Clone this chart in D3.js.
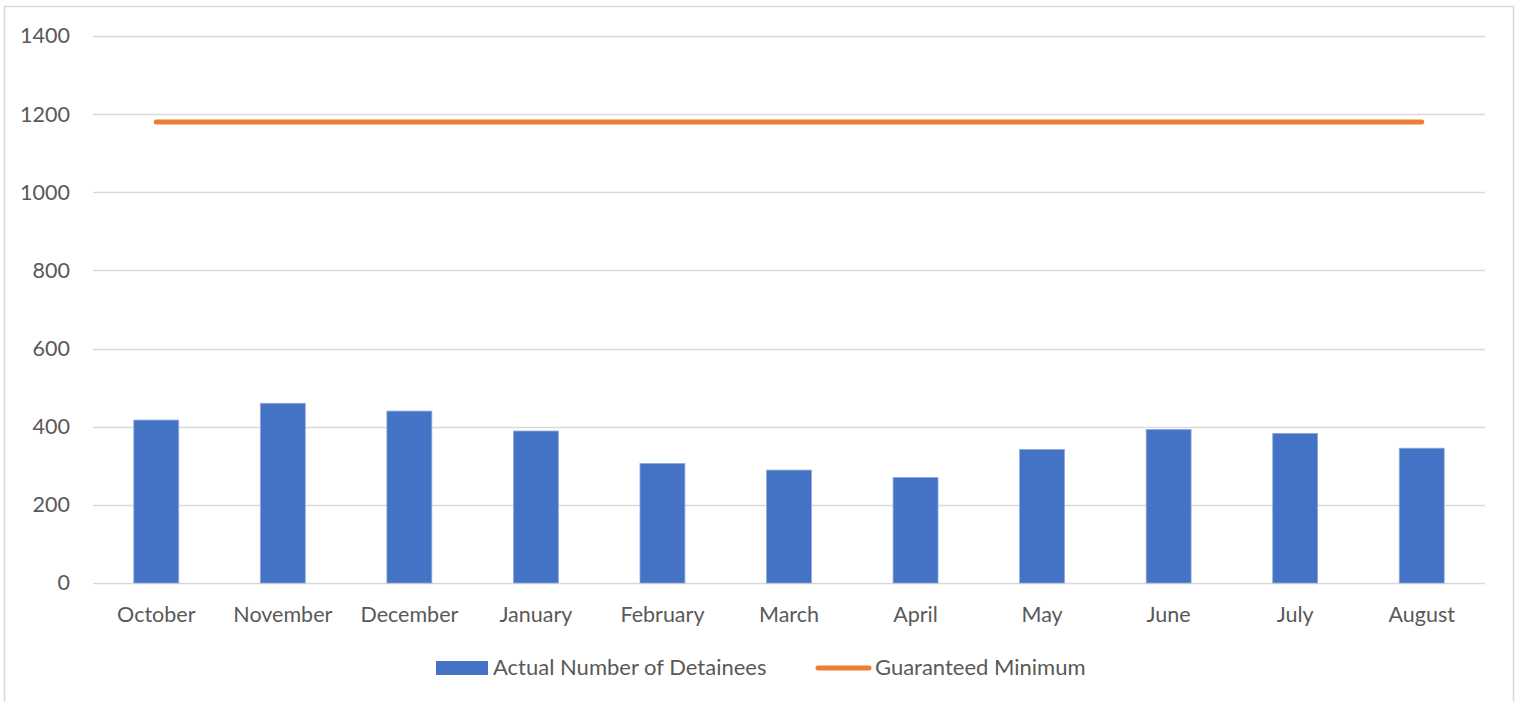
<!DOCTYPE html>
<html>
<head>
<meta charset="utf-8">
<script src="https://cdn.jsdelivr.net/npm/d3@7"></script>
<style>
    body { margin: 0; background: #fff; }
    #chart { width: 1520px; height: 702px; }
    text { font-family: Lato, "Noto Sans", sans-serif; fill: #595959; }
</style>
</head>
<body>
<div id="chart"></div>
<script>

// data
let months = ["October", "November", "December", "January", "February", "March",
    "April", "May", "June", "July", "August"];
let detainees = [417, 460, 440, 389, 306, 289, 270, 342, 393, 383, 345];
let guaranteedMinimum = [1180, 1180, 1180, 1180, 1180, 1180, 1180, 1180, 1180, 1180, 1180];
let yTicks = [0, 200, 400, 600, 800, 1000, 1200, 1400];

let width = 1520, height = 702;
let margin = {top: 36, right: 35, bottom: 119, left: 93};
let fontSize = "21.5px";

let svg = d3.select("#chart").append("svg")
    .attr("width", width)
    .attr("height", height);

// outer frame
svg.append("rect")
    .attr("x", 4.5).attr("y", 6.5)
    .attr("width", 1509).attr("height", 720)
    .attr("fill", "none")
    .attr("stroke", "#d9d9d9")
    .attr("stroke-width", 1.5);

let x = d3.scaleBand()
    .domain(months)
    .range([margin.left, width - margin.right])
    .paddingInner(0.645)
    .paddingOuter(0.3225);

let xCenter = d3.scaleBand()
    .domain(months)
    .range([margin.left, width - margin.right]);

let y = d3.scaleLinear()
    .domain([0, 1400])
    .range([height - margin.bottom, margin.top]);

// gridlines
svg.append("g")
    .selectAll("line")
    .data(yTicks)
    .enter()
    .append("line")
    .attr("x1", margin.left)
    .attr("x2", width - margin.right)
    .attr("y1", d => Math.round(y(d)) + 0.5)
    .attr("y2", d => Math.round(y(d)) + 0.5)
    .attr("stroke", "#d9d9d9")
    .attr("stroke-width", 1.5);

// y axis labels
let yAxis = d3.axisLeft(y).tickValues(yTicks).tickFormat(d3.format("d")).tickSize(0).tickPadding(23);
svg.append("g")
    .attr("transform", `translate(${margin.left}, 0)`)
    .call(yAxis)
    .call(g => g.select(".domain").remove())
    .selectAll("text")
    .style("font-size", fontSize)
    .style("font-family", "Lato, 'Noto Sans', sans-serif")
    .attr("fill", "#595959");

// x axis labels
let xAxis = d3.axisBottom(xCenter).tickSize(0).tickPadding(24);
svg.append("g")
    .attr("transform", `translate(0, ${height - margin.bottom})`)
    .call(xAxis)
    .call(g => g.select(".domain").remove())
    .selectAll("text")
    .style("font-size", fontSize)
    .style("font-family", "Lato, 'Noto Sans', sans-serif")
    .attr("fill", "#595959");

// bars
svg.append("g")
    .selectAll("rect")
    .data(detainees)
    .enter()
    .append("rect")
    .attr("x", (d, i) => x(months[i]))
    .attr("width", x.bandwidth())
    .attr("y", d => y(d))
    .attr("height", d => y(0) - y(d))
    .attr("fill", "#4472c4")
    .attr("stroke", "#8faadc")
    .attr("stroke-width", 0.8);

// guaranteed minimum line
let line = d3.line()
    .x((d, i) => xCenter(months[i]) + xCenter.bandwidth() / 2)
    .y(d => y(d));

svg.append("path")
    .datum(guaranteedMinimum)
    .attr("d", line)
    .attr("fill", "none")
    .attr("stroke", "#ed7d31")
    .attr("stroke-width", 5)
    .attr("stroke-linecap", "round");

// legend
let legend = svg.append("g").attr("class", "legend");

legend.append("rect")
    .attr("x", 436).attr("y", 661)
    .attr("width", 52).attr("height", 14)
    .attr("fill", "#4472c4");

legend.append("text")
    .attr("x", 493).attr("y", 675)
    .style("font-size", "22px")
    .text("Actual Number of Detainees");

legend.append("line")
    .attr("x1", 818).attr("x2", 869)
    .attr("y1", 668).attr("y2", 668)
    .attr("stroke", "#ed7d31")
    .attr("stroke-width", 5)
    .attr("stroke-linecap", "round");

legend.append("text")
    .attr("x", 875).attr("y", 675)
    .style("font-size", "22px")
    .text("Guaranteed Minimum");

</script>
</body>
</html>
